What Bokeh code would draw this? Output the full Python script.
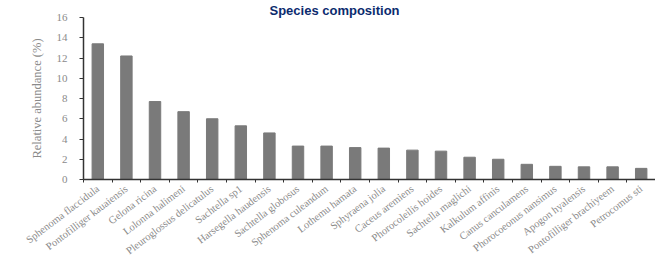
from bokeh.plotting import figure
from bokeh.models import Range1d, FixedTicker
from bokeh.embed import file_html
from bokeh.resources import INLINE
import numpy as np

species = ["Sphenoma flaccidula", "Pontofilliger kauaiensis", "Gelona ricina",
           "Lolonna halimeni", "Pleuroglossus delicatulus", "Sachtella sp1",
           "Harsegella haudensis", "Sachtella globosus", "Sphenoma culeandum",
           "Lothemu hamata", "Sphyraena jolia", "Caceus aremiens",
           "Phorocoleilis hoides", "Sachtella maglichi", "Kalkulum affinis",
           "Canus canculamens", "Phorocoeonus nansimus", "Apogon hyalensis",
           "Pontofilliger brachiyeem", "Petrocomus sti"]
abundance = [13.4, 12.2, 7.7, 6.7, 6.0, 5.3, 4.6, 3.3, 3.3, 3.15,
             3.1, 2.9, 2.8, 2.2, 2.0, 1.5, 1.3, 1.25, 1.25, 1.1]
y_ticks = [0, 2, 4, 6, 8, 10, 12, 14, 16]

n = len(species)
xpos = np.arange(n) + 0.5

p = figure(width=655, height=267, output_backend="svg", toolbar_location=None,
           x_range=Range1d(0, n), y_range=Range1d(0, 16),
           min_border_left=83, min_border_right=0, min_border_top=0,
           min_border_bottom=88, title="Species composition")
p.outline_line_color = None
p.grid.grid_line_color = None
p.background_fill_color = "white"
p.border_fill_color = "white"

p.title.align = "left"
p.title.offset = 186
p.title.standoff = 0
p.title.text_font = "Liberation Sans"
p.title.text_font_style = "bold"
p.title.text_font_size = "13px"
p.title.text_color = "#0b2b6e"

p.vbar(x=xpos, top=abundance, width=0.4, color="#7a7a7a")

font = "Liberation Serif"
gray = "#8a8a8a"

xa = p.xaxis[0]
xa.ticker = FixedTicker(ticks=list(xpos), minor_ticks=list(np.arange(n + 1)))
xa.major_label_overrides = {float(x): s for x, s in zip(xpos, species)}
xa.major_label_orientation = 0.65
xa.major_tick_out = 0
xa.major_tick_in = 0
xa.minor_tick_out = 3
xa.minor_tick_in = 0
xa.minor_tick_line_color = "#333333"
xa.axis_line_color = "#333333"
xa.axis_line_width = 1.5
xa.major_label_text_font = font
xa.major_label_text_font_size = "10.5px"
xa.major_label_text_color = gray
xa.major_label_standoff = 5

ya = p.yaxis[0]
ya.ticker = FixedTicker(ticks=y_ticks)
ya.minor_tick_line_color = None
ya.major_tick_out = 4
ya.major_tick_in = 0
ya.major_tick_line_color = "#333333"
ya.axis_line_color = "#333333"
ya.axis_line_width = 1.5
ya.major_label_text_font = font
ya.major_label_text_font_size = "11px"
ya.major_label_text_color = gray
ya.major_label_standoff = 12
ya.axis_label = "Relative abundance (%)"
ya.axis_label_text_font = font
ya.axis_label_text_font_style = "normal"
ya.axis_label_text_font_size = "12.5px"
ya.axis_label_text_color = gray
ya.axis_label_standoff = 10

open("out.html", "w").write(file_html(p, INLINE))
